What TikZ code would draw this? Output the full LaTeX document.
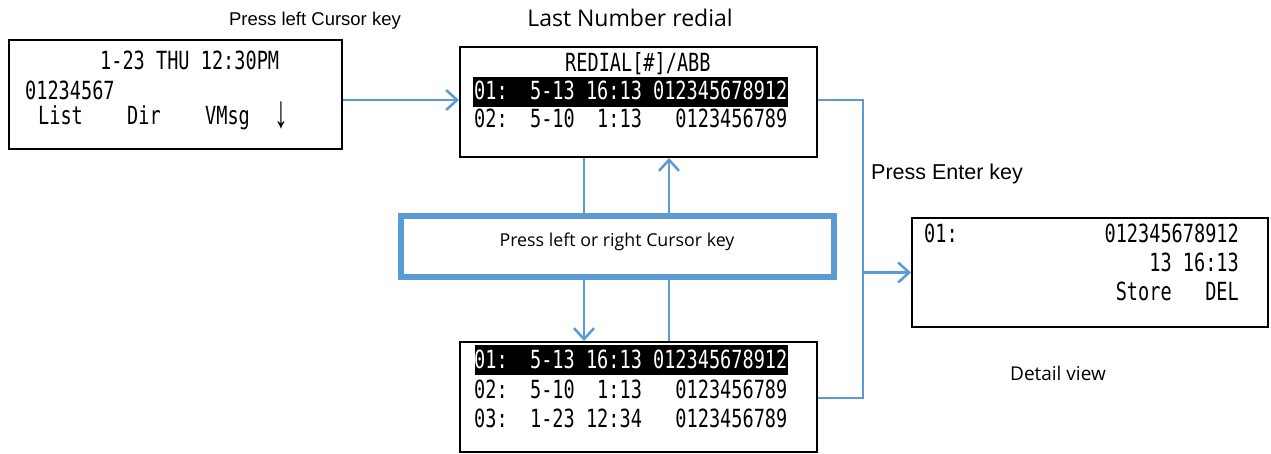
\documentclass[tikz,border=0pt]{standalone}
\usepackage{fontspec}
\usetikzlibrary{arrows.meta}
\setmainfont{Open Sans}
\newfontfamily\lcd[FakeStretch=0.743]{DejaVu Sans Mono}
\newfontfamily\arial{Liberation Sans}
\newfontfamily\ops{Open Sans}
\definecolor{flow}{RGB}{91,155,213}
\begin{document}
\begin{tikzpicture}[x=1pt,y=-1pt,
  lcdbox/.style={draw=black, line width=2pt, fill=white, rectangle, inner sep=0},
  lcdtxt/.style={font=\lcd\fontsize{25}{25}\selectfont, inner sep=0, anchor=base west},
  lcdr/.style={lcdtxt, anchor=base east},
  hlbar/.style={fill=black, inner sep=0, minimum height=30pt},
  link/.style={draw=flow, line width=2.5pt},
  arr/.style={link, -{Straight Barb[length=11pt,width=20pt,line width=2.5pt]}},
  lbl/.style={inner sep=0, anchor=base},
 ]
\useasboundingbox (0,0) rectangle (1271,454);
\fill[white] (0,0) rectangle (1271,454);

% boxes
\node[lcdbox, minimum width=333pt, minimum height=109pt] (A) at (175.5,94.5) {};
\node[lcdbox, minimum width=357pt, minimum height=110pt] (B) at (638.5,102) {};
\node[lcdbox, minimum width=357pt, minimum height=110pt] (C) at (638.5,397) {};
\node[lcdbox, minimum width=356pt, minimum height=109pt] (D) at (1090,272.5) {};
\node[draw=flow, line width=6pt, minimum width=433pt, minimum height=61pt, inner sep=0] (M) at (617.5,246.5) {};

% highlight bars
\node[hlbar, minimum width=315pt] (Bh) at (630.5,92) {};
\node[hlbar, minimum width=313pt] (Ch) at (631.5,360) {};

% labels
\node[lbl, font=\arial\fontsize{18.5}{20}\selectfont] (t1) at (315,26) {Press left Cursor key};
\node[lbl, font=\ops\fontsize{23}{26}\selectfont] (t2) at (630,27) {Last Number redial};
\node[lbl, anchor=base west, font=\arial\fontsize{21.5}{24}\selectfont] (t3) at (871,180) {Press Enter key};
\node[lbl, font=\ops\fontsize{19}{20}\selectfont] (t4) at (1058,380) {Detail view};
\node[lbl, font=\ops\fontsize{17.8}{20}\selectfont] (t5) at (617,247) {Press left or right Cursor key};

% box A
\node[lcdtxt] (a1) at (100,70) {1-23~THU~12:30PM};
\node[lcdtxt] (a2) at (25,100) {01234567};
\node[lcdtxt] (a3) at (38,125) {List};
\node[lcdtxt] (a4) at (127,125) {Dir};
\node[lcdtxt] (a5) at (205,125) {VMsg};
\node[lbl, anchor=base west, font=\arial\fontsize{24}{24}\selectfont] (a6) at (274,128) {\scalebox{1.15}[1.9]{↓}};

% box B
\node[lcdtxt] (b0) at (565,72) {REDIAL[\#]/ABB};
\node[lcdtxt, text=white] (b1) at (474,100) {01:~~5-13~16:13~012345678912};
\node[lcdtxt] (b2) at (474,128) {02:~~5-10~~1:13~~~0123456789};

% box C
\node[lcdtxt, text=white] (c1) at (474,368) {01:~~5-13~16:13~012345678912};
\node[lcdtxt] (c2) at (474,398) {02:~~5-10~~1:13~~~0123456789};
\node[lcdtxt] (c3) at (474,427) {03:~~1-23~12:34~~~0123456789};

% box D
\node[lcdtxt] (d1) at (924,243) {01:};
\node[lcdr] (d2) at (1239,243) {012345678912};
\node[lcdr] (d3) at (1239,272) {13~16:13};
\node[lcdr] (d4) at (1239,300) {Store~~~DEL};

% connectors
\coordinate (yAB) at (0,100);
\coordinate (yC) at (0,398);
\coordinate (xR) at (863,0);
\coordinate (x1) at (584,0);
\coordinate (x2) at (669,0);
\draw[arr] (A.east |- yAB) -- (B.west |- yAB);
\draw[link] (B.east |- yAB) -- (xR |- yAB) -- (xR |- yC) -- (C.east |- yC);
\draw[arr] (xR |- D.west) -- (D.west);
\draw[link] (B.south -| x1) -- (M.north -| x1);
\draw[arr] (M.north -| x2) -- (B.south -| x2);
\draw[arr] (M.south -| x1) -- (C.north -| x1);
\draw[link] (C.north -| x2) -- (M.south -| x2);
\end{tikzpicture}
\end{document}
